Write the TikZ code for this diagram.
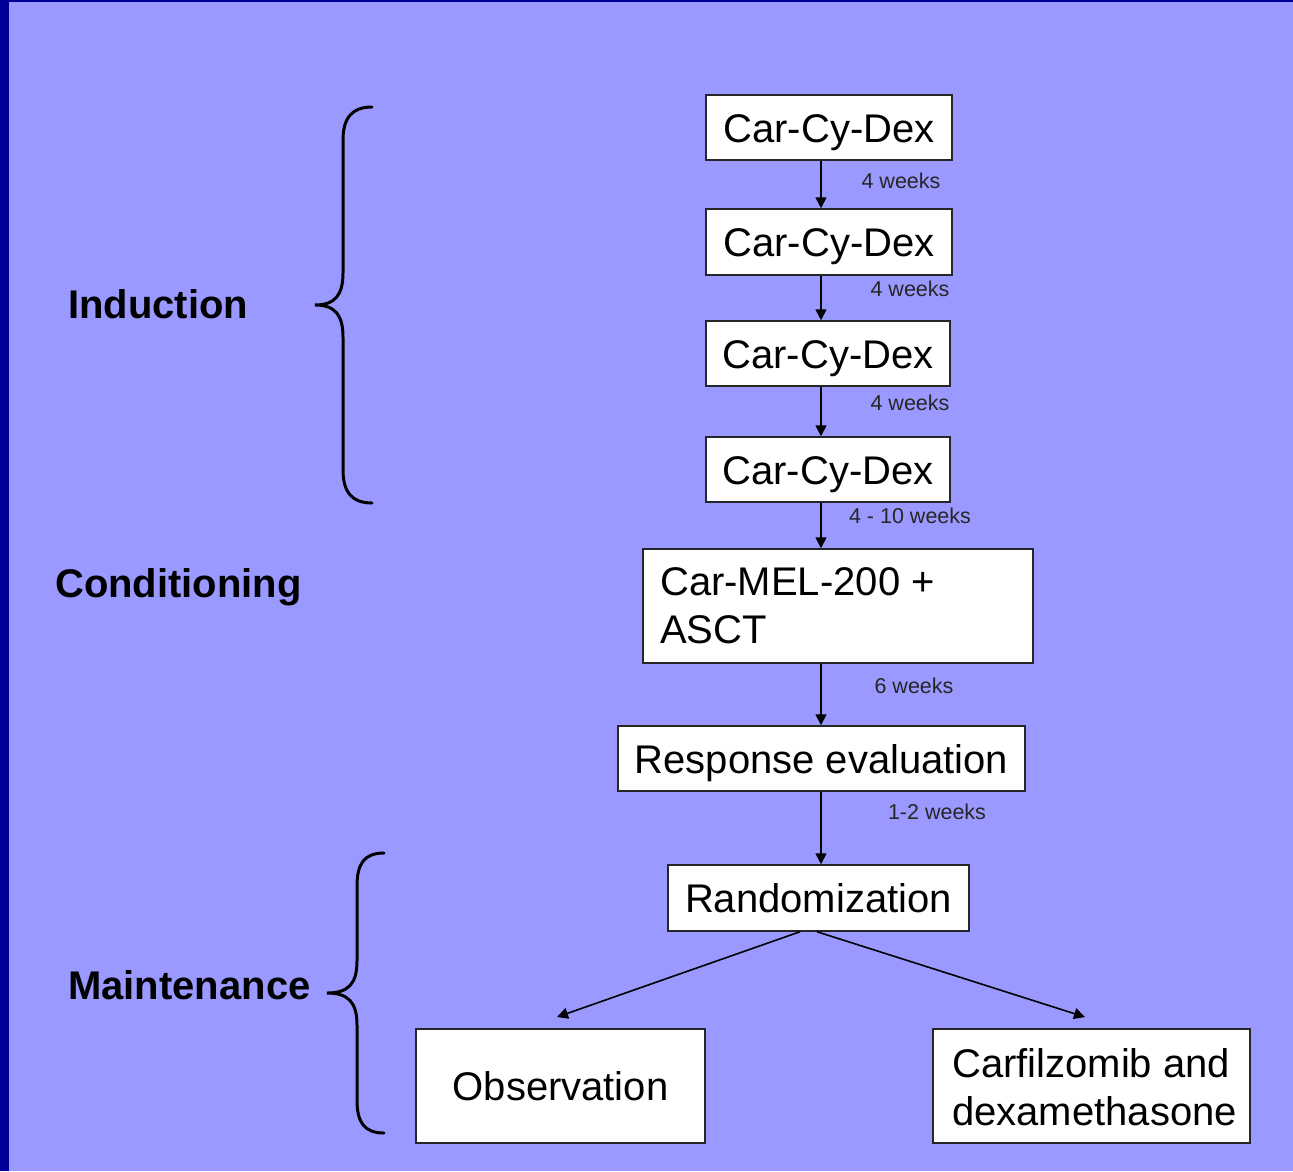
\documentclass[tikz,border=0pt]{standalone}
\usepackage{fontspec}
\setmainfont{Liberation Sans}
\usetikzlibrary{arrows.meta}
\definecolor{bgpurple}{HTML}{9999FF}
\definecolor{darkedge}{HTML}{000099}
\tikzset{
  stepbox/.style={draw=black!85, line width=1.5pt, fill=white, inner sep=0pt,
    text height=29pt, text depth=0pt,
    font=\fontsize{40}{48}\selectfont},
  weeklbl/.style={font=\fontsize{21.5}{24}\selectfont, text=black!85, inner sep=0pt},
  phase/.style={font=\bfseries\fontsize{40}{48}\selectfont, inner sep=0pt, anchor=west,
    text height=29pt, text depth=0pt},
  arr/.style={line width=1.6pt, -{Triangle[width=11pt,length=11pt]}},
  bracepath/.style={line width=3pt, line cap=round}
}
\begin{document}
\begin{tikzpicture}[x=1pt,y=-1pt]
\useasboundingbox (0,0) rectangle (1293,1171);
\fill[darkedge] (0,0) rectangle (1293,1171);
\fill[bgpurple] (9,2) rectangle (1293,1171);

% boxes
\node[stepbox, minimum width=246pt, minimum height=65pt] (b1) at (829,127.5) {Car-Cy-Dex};
\node[stepbox, minimum width=246pt, minimum height=66pt] (b2) at (829,242) {Car-Cy-Dex};
\node[stepbox, minimum width=244pt, minimum height=65pt] (b3) at (828,353.5) {Car-Cy-Dex};
\node[stepbox, minimum width=244pt, minimum height=65pt] (b4) at (828,469.5) {Car-Cy-Dex};
\node[stepbox, minimum width=390pt, minimum height=114pt] (cond) at (838,606) {};
\node[anchor=west, inner sep=0pt, font=\fontsize{40}{48}\selectfont] (condtxt1) at (660,582) {Car-MEL-200 +};
\node[anchor=west, inner sep=0pt, font=\fontsize{40}{48}\selectfont] (condtxt2) at (660,630) {ASCT};
\node[stepbox, minimum width=407pt, minimum height=65pt] (resp) at (821.5,758.5) {Response evaluation};
\node[stepbox, minimum width=301pt, minimum height=66pt] (rand) at (818.5,898) {Randomization};
\node[stepbox, minimum width=289pt, minimum height=114pt] (obs) at (560.5,1086) {Observation};
\node[stepbox, minimum width=317pt, minimum height=114pt] (carf) at (1091.5,1086) {};
\node[anchor=west, inner sep=0pt, font=\fontsize{40}{48}\selectfont] (carftxt1) at (952,1063) {Carfilzomib and};
\node[anchor=west, inner sep=0pt, font=\fontsize{40}{48}\selectfont] (carftxt2) at (952,1111) {dexamethasone};

% vertical connector line
\coordinate (xl) at (821,0);
\draw[arr] (b1.south -| xl) -- (b2.north -| xl);
\draw[arr] (b2.south -| xl) -- (b3.north -| xl);
\draw[arr] (b3.south -| xl) -- (b4.north -| xl);
\draw[arr] (b4.south -| xl) -- (cond.north -| xl);
\draw[arr] (cond.south -| xl) -- (resp.north -| xl);
\draw[arr] (resp.south -| xl) -- (rand.north -| xl);

% branching arrows
\coordinate (rl) at (800,0);
\coordinate (rr) at (817,0);
\coordinate (obstip) at (557,1017);
\coordinate (carftip) at (1085,1017);
\draw[arr] (rand.south -| rl) -- (obstip);
\draw[arr] (rand.south -| rr) -- (carftip);

% labels
\node[weeklbl] (w1) at (901,181) {4 weeks};
\node[weeklbl] (w2) at (910,289) {4 weeks};
\node[weeklbl] (w3) at (910,403) {4 weeks};
\node[weeklbl] (w4) at (910,516) {4 - 10 weeks};
\node[weeklbl] (w5) at (914,686) {6 weeks};
\node[weeklbl] (w6) at (937,812) {1-2 weeks};

% phases
\node[phase] (ind) at (68,304) {Induction};
\node[phase] (con) at (55,583) {Conditioning};
\node[phase] (mai) at (68,985) {Maintenance};

% braces
\draw[bracepath] (372,107) .. controls (352,107) and (343,118) .. (343,140)
  -- (343,273) .. controls (343,295) and (335,305) .. (315,305)
  .. controls (335,305) and (343,315) .. (343,337)
  -- (343,470) .. controls (343,492) and (352,503) .. (372,503);
\draw[bracepath] (384,853) .. controls (364,853) and (357,864) .. (357,886)
  -- (357,961) .. controls (357,983) and (349,993) .. (327,993)
  .. controls (349,993) and (357,1003) .. (357,1025)
  -- (357,1100) .. controls (357,1122) and (364,1133) .. (384,1133);
\end{tikzpicture}
\end{document}
